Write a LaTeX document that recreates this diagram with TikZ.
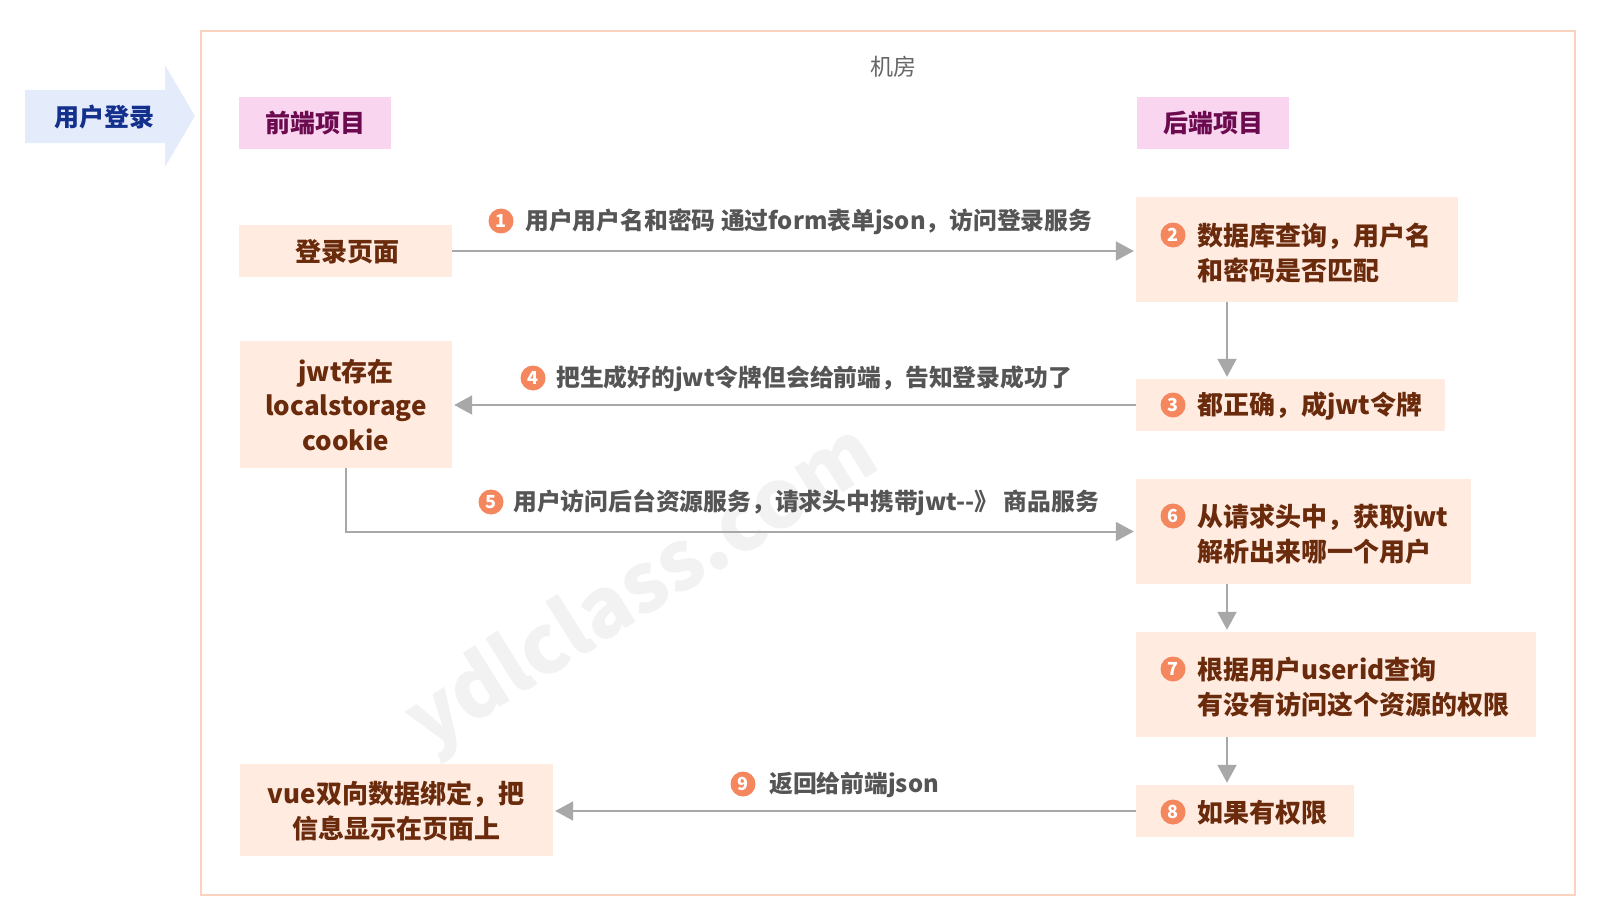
\documentclass[tikz,border=0pt]{standalone}
\usepackage{fontspec}
\setmainfont{Noto Sans CJK SC}
\usetikzlibrary{arrows.meta}
\definecolor{framec}{HTML}{FAD2C0}
\definecolor{boxf}{HTML}{FFEBE0}
\definecolor{boxt}{HTML}{6A2A0C}
\definecolor{pinkf}{HTML}{F9D5F0}
\definecolor{pinkt}{HTML}{6B0A4E}
\definecolor{bluef}{HTML}{E4ECFC}
\definecolor{bluet}{HTML}{13308C}
\definecolor{linec}{HTML}{A8A8A8}
\definecolor{numc}{HTML}{F5875F}
\definecolor{labt}{HTML}{555555}
\definecolor{roomt}{HTML}{666666}
\definecolor{wmc}{HTML}{F2F2F2}
\begin{document}
\begin{tikzpicture}[x=1pt,y=-1pt,
  box/.style={fill=boxf, inner sep=0, draw=none},
  btxt/.style={text=boxt, font=\bfseries\fontsize{26}{34.5}\selectfont, inner sep=0, align=left, anchor=west},
  ctxt/.style={text=boxt, font=\bfseries\fontsize{26}{34.5}\selectfont, inner sep=0, align=center},
  pbox/.style={fill=pinkf, text=pinkt, font=\bfseries\fontsize{25}{30}\selectfont, inner sep=0, minimum width=152, minimum height=52},
  numb/.style={circle, fill=numc, text=white, font=\bfseries\fontsize{18}{18}\selectfont, inner sep=0, minimum size=25},
  ltxt/.style={text=labt, font=\bfseries\fontsize{23.8}{28}\selectfont, inner sep=0, anchor=west},
  conn/.style={draw=linec, line width=2, -{Triangle[length=18pt,width=19pt]}, shorten >=2pt}
]
\useasboundingbox (0,0) rectangle (1600,915);
% watermark
\node[text=wmc, font=\bfseries\fontsize{82}{82}\selectfont, rotate=32, inner sep=0] (wmark) at (643,590) {ydlclass.com};
% frame
\node[draw=framec, line width=2, minimum width=1374, minimum height=864, inner sep=0] (room) at (888,463) {};
\node[text=roomt, font=\fontsize{23}{23}\selectfont, inner sep=0] (roomlbl) at (893,67) {机房};
% user login arrow
\fill[bluef] (25,90) -- (165,90) -- (165,65) -- (195,116) -- (165,167) -- (165,143) -- (25,143) -- cycle;
\node[text=bluet, font=\bfseries\fontsize{25}{25}\selectfont, inner sep=0] (login0) at (104,117) {用户登录};
% titles
\node[pbox] (fe) at (315,123) {前端项目};
\node[pbox] (be) at (1213,123) {后端项目};
% boxes
\node[box, minimum width=213, minimum height=52] (login) at (345.5,251) {};
\node[ctxt] (tlogin) at (347,252) {登录页面};
\node[box, minimum width=322, minimum height=105] (b2) at (1297,249.5) {};
\node[box, minimum width=309, minimum height=52] (b3) at (1290.5,405) {};
\node[box, minimum width=212, minimum height=127] (jwt) at (346,404.5) {};
\node[ctxt] (tjwt) at (346,405) {jwt存在\\localstorage\\cookie};
\node[box, minimum width=335, minimum height=105] (b6) at (1303.5,531.5) {};
\node[box, minimum width=400, minimum height=105] (b7) at (1336,684.5) {};
\node[box, minimum width=218, minimum height=52] (b8) at (1245,811) {};
\node[box, minimum width=313, minimum height=92] (vue) at (396.5,810) {};
\node[ctxt] (tvue) at (396,811) {vue双向数据绑定，把\\信息显示在页面上};
% box texts
\node[numb] (c2) at (1173,235) {2};
\node[btxt] (t2) at (1197,253) {数据库查询，用户名\\和密码是否匹配};
\node[numb] (c3) at (1173,405) {3};
\node[btxt] (t3) at (1197,406) {都正确，成jwt令牌};
\node[numb] (c6) at (1173,516) {6};
\node[btxt] (t6) at (1197,534) {从请求头中，获取jwt\\解析出来哪一个用户};
\node[numb] (c7) at (1173,669) {7};
\node[btxt] (t7) at (1197,687) {根据用户userid查询\\有没有访问这个资源的权限};
\node[numb] (c8) at (1173,812) {8};
\node[btxt] (t8) at (1197,813) {如果有权限};
% connectors
\coordinate (vx) at (1227,0);
\draw[conn] (login.east) -- (login.east -| b2.west);
\draw[conn] (b2.south -| vx) -- (b3.north -| vx);
\draw[conn] (b3.west) -- (b3.west -| jwt.east);
\draw[conn] (jwt.south) |- (b6.west);
\draw[conn] (b6.south -| vx) -- (b7.north -| vx);
\draw[conn] (b7.south -| vx) -- (b8.north -| vx);
\draw[conn] (b8.west) -- (b8.west -| vue.east);
% connector labels
\node[numb] (c1) at (501,221) {1};
\node[ltxt] (l1) at (525,222) {用户用户名和密码 通过form表单json，访问登录服务};
\node[numb] (c4) at (533,378) {4};
\node[ltxt] (l4) at (556,379) {把生成好的jwt令牌但会给前端，告知登录成功了};
\node[numb] (c5) at (491,502) {5};
\node[ltxt] (l5) at (513,503) {用户访问后台资源服务，请求头中携带jwt-{}-》 商品服务};
\node[numb] (c9) at (743,784) {9};
\node[ltxt] (l9) at (769,785) {返回给前端json};
\end{tikzpicture}
\end{document}
